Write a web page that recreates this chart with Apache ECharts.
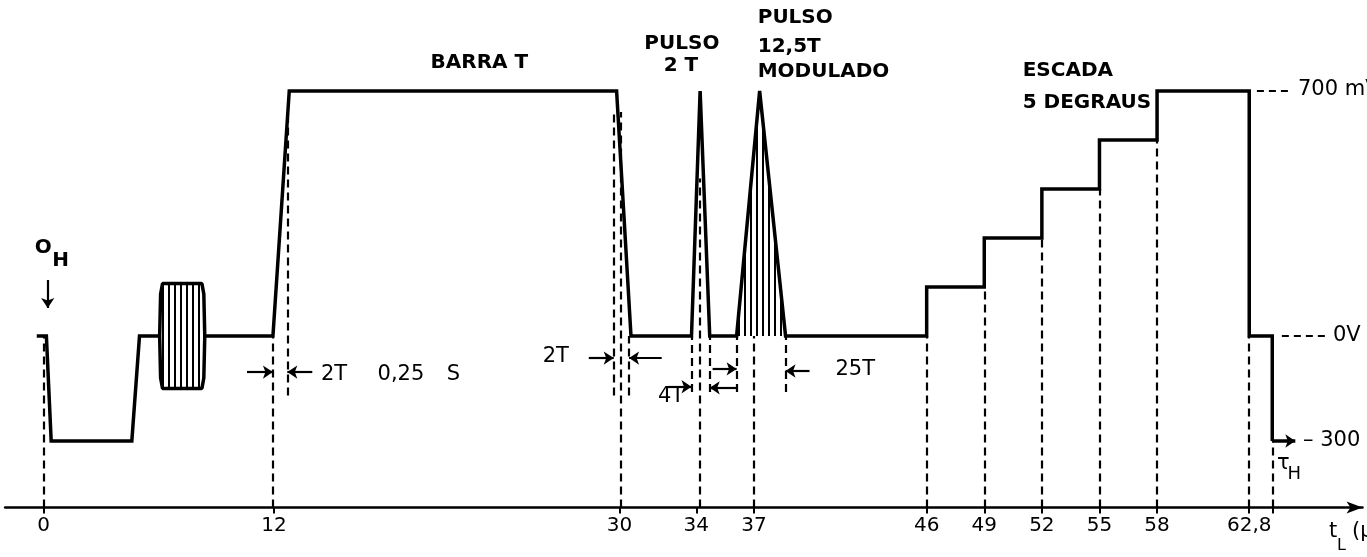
<!DOCTYPE html>
<html>
<head>
<meta charset="utf-8">
<script src="https://cdn.jsdelivr.net/npm/echarts@6/dist/echarts.min.js"></script>
<style>
  html, body { margin: 0; padding: 0; background: #fff; }
  #chart { width: 1367px; height: 557px; }
</style>
</head>
<body>
<div id="chart"></div>
<script>
// linha de teste de vídeo: tempo em µs, nível em mV
const traceT = [-0.35, 0.15, 0.4, 4.6, 5.0, 6.05, 7.2, 8.4, 11.95, 12.8, 29.85, 30.6, 33.75, 34.2, 34.7, 36.1, 37.3, 38.65,
  46, 46, 49, 49, 52, 52, 55, 55, 58, 58, 62.8, 62.8, 64, 64];
const traceV = [0, 0, -300, -300, 0, 0, '-', 0, 0, 700, 700, 0, 0, 700, 0, 0, 700, 0,
  0, 140, 140, 280, 280, 420, 420, 560, 560, 700, 700, 0, 0, -300];

// burst de cor
const burstT = [6.05, 6.1, 6.2, 8.25, 8.35, 8.4];
const burstHi = [0, 120, 150, 150, 120, 0];
const burstLo = [0, -120, -150, -150, -120, 0];

// pulso 12,5T modulado
const modT = [36.1, 37.3, 38.65];
const modV = [0, 700, 0];

// linhas tracejadas verticais
const guideT = [0, 11.95, 12.7, 29.7, 30.05, 30.5, 33.75, 34.2, 34.7, 36.1, 37.0, 38.65, 46, 49, 52, 55, 58, 62.8, 64];
const guideLo = [-490, -490, -170, -170, -490, -170, -160, -490, -160, -160, -490, -160, -490, -490, -490, -490, -490, -490, -490];
const guideHi = [0, 0, 620, 640, 640, 0, 0, 450, 0, 0, 0, 0, 0, 140, 280, 420, 560, 0, -300];

// eixo
const tickLabels = [0, 12, 30, 34, 37, 46, 49, 52, 55, 58, 62.8];
const tickMarks = [0, 12, 30, 34, 37, 46, 49, 52, 55, 58, 62.8, 64];

const pts = (xs, ys) => xs.map((x, i) => [x, ys[i]]);

function hatch() {
  const c = document.createElement('canvas');
  c.width = 6; c.height = 6;
  const g = c.getContext('2d');
  g.fillStyle = '#000';
  g.fillRect(0, 0, 2, 6);
  return c;
}
const stripes = { image: hatch(), repeat: 'repeat' };

// setas de cota [t0, v0, t1, v1]
const arrows = [
  [10.6, -103, 11.95, -103], [14.0, -103, 12.7, -103],
  [28.4, -63, 29.7, -63], [32.2, -63, 30.5, -63],
  [32.5, -145, 33.75, -145], [34.85, -94, 36.1, -94], [36.1, -148, 34.7, -148],
  [39.9, -100, 38.65, -100],
  [0.22, 160, 0.22, 80]
];

const chart = echarts.init(document.getElementById('chart'));

const black = '#000';
const option = {
  animation: false,
  backgroundColor: '#fff',
  grid: { left: 5.1, right: 4.5, top: 0, bottom: 49.5 },
  xAxis: {
    type: 'value', min: -2, max: 68.7,
    axisLine: { onZero: false, symbol: ['none', 'arrow'], symbolSize: [9, 16], lineStyle: { color: black, width: 2.5 } },
    axisTick: { customValues: tickMarks, length: 6, lineStyle: { color: black, width: 2 } },
    axisLabel: {
      customValues: tickLabels, color: black, fontFamily: 'DejaVu Sans', fontSize: 20, margin: 8,
      formatter: v => String(v).replace('.', ',')
    },
    splitLine: { show: false }
  },
  yAxis: { type: 'value', min: -490, max: 960, show: false },
  series: [
    {
      type: 'line', data: pts(burstT, burstHi), symbol: 'none', silent: true,
      lineStyle: { color: black, width: 3.5 }, areaStyle: { color: stripes, opacity: 1 }
    },
    {
      type: 'line', data: pts(burstT, burstLo), symbol: 'none', silent: true,
      lineStyle: { color: black, width: 3.5 }, areaStyle: { color: stripes, opacity: 1 }
    },
    {
      type: 'line', data: pts(modT, modV), symbol: 'none', silent: true,
      lineStyle: { width: 0 }, areaStyle: { color: stripes, opacity: 1 }
    },
    {
      type: 'line', data: [], silent: true,
      markLine: {
        silent: true, symbol: 'none', label: { show: false },
        lineStyle: { color: black, width: 2.2, type: [8, 5] },
        emphasis: { disabled: true },
        data: guideT.map((t, i) => [{ coord: [t, guideLo[i]] }, { coord: [t, guideHi[i]] }])
      }
    },
    {
      type: 'line', data: [], silent: true,
      markLine: {
        silent: true, symbol: ['none', 'arrow'], symbolSize: 10, label: { show: false },
        lineStyle: { color: black, width: 2.2, type: 'solid' },
        emphasis: { disabled: true },
        data: arrows.map(a => [{ coord: [a[0], a[1]] }, { coord: [a[2], a[3]] }])
          .concat([[{ coord: [64, -300], lineStyle: { width: 3.5 } }, { coord: [65.2, -300] }]])
      }
    },
    {
      type: 'line', data: pts(traceT, traceV), symbol: 'none', silent: true,
      lineStyle: { color: black, width: 3.5, join: 'miter' }
    },
    {
      type: 'line', data: [], silent: true,
      markLine: {
        silent: true, symbol: 'none', label: { show: false },
        lineStyle: { color: black, width: 2.2, type: [7, 5] },
        emphasis: { disabled: true },
        data: [
          [{ coord: [63.2, 700] }, { coord: [65.0, 700] }],
          [{ coord: [64.5, 0] }, { coord: [66.9, 0] }]
        ]
      }
    }
  ]
};
chart.setOption(option);

// textos
const bold = 'bold 20px "DejaVu Sans"';
const plain = '21px "DejaVu Sans"';
const notes = [
  [-0.45, 252, 'O', 'left', bold],
  [0.45, 214, 'H', 'left', bold],
  [22.7, 780, 'BARRA T', 'center', bold],
  [33.25, 834, 'PULSO', 'center', bold],
  [33.2, 771, '2 T', 'center', bold],
  [37.2, 909, 'PULSO', 'left', bold],
  [37.2, 826, '12,5T', 'left', bold],
  [37.2, 754, 'MODULADO', 'left', bold],
  [51.0, 757, 'ESCADA', 'left', bold],
  [51.0, 666, '5 DEGRAUS', 'left', bold],
  [14.45, -109, '2T', 'left', plain],
  [17.4, -109, '0,25', 'left', plain],
  [21.0, -109, 'S', 'left', plain],
  [26.0, -60, '2T', 'left', plain],
  [32.0, -173, '4T', 'left', plain],
  [41.25, -97, '25T', 'left', plain],
  [64.25, -365, 'τ', 'left', plain],
  [64.8, -395, 'H', 'left', '18px "DejaVu Sans"']
];
const graphic = notes.map(n => {
  const p = chart.convertToPixel({ xAxisIndex: 0, yAxisIndex: 0 }, [n[0], n[1]]);
  return {
    type: 'text', x: p[0], y: p[1], silent: true,
    style: { text: n[2], font: n[4], fill: black, align: n[3], textAlign: n[3], verticalAlign: 'middle', textVerticalAlign: 'middle' }
  };
});
const fixedTexts = [
  [1298, 90, '700 mV', plain],
  [1333, 336, '0V', plain],
  [1303, 441, '– 300 mV', plain],
  [1329, 532, 't', plain],
  [1337, 546, 'L', '16px "DejaVu Sans"'],
  [1352, 532, '(µs)', plain]
];
fixedTexts.forEach(f => {
  graphic.push({
    type: 'text', x: f[0], y: f[1], silent: true,
    style: { text: f[2], font: f[3], fill: black, align: 'left', textAlign: 'left', verticalAlign: 'middle', textVerticalAlign: 'middle' }
  });
});
chart.setOption({ graphic: graphic });
</script>
</body>
</html>
